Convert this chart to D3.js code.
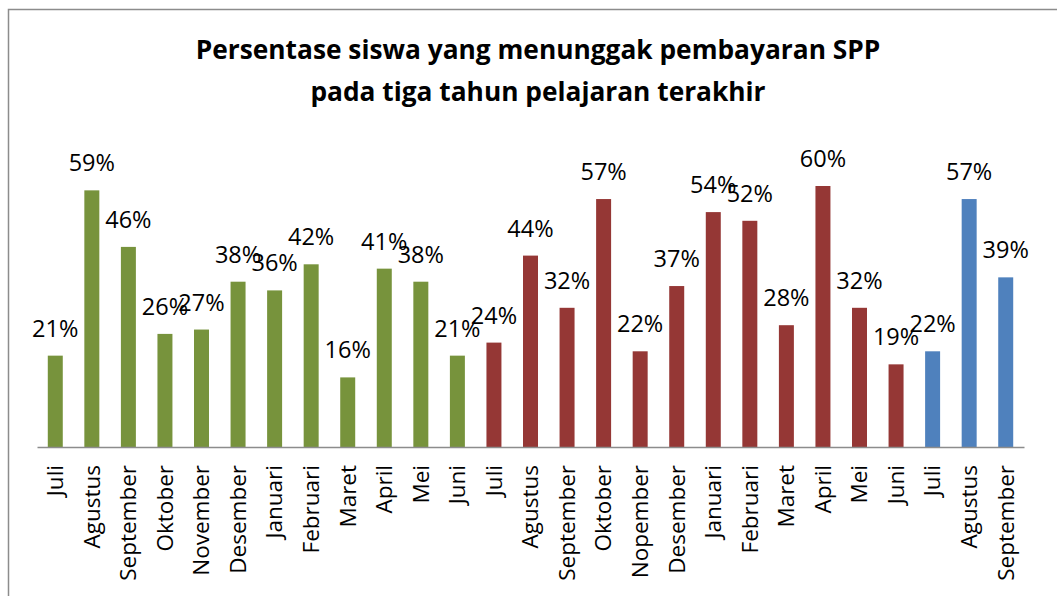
<!DOCTYPE html>
<html>
<head>
<meta charset="utf-8">
<script src="https://cdn.jsdelivr.net/npm/d3@7"></script>
<style>
  body { margin: 0; background: #fff; }
  svg { display: block; }
</style>
</head>
<body>
<div id="chart"></div>
<script>
// Data
var months = ["Juli", "Agustus", "September", "Oktober", "November", "Desember", "Januari", "Februari", "Maret", "April", "Mei", "Juni",
              "Juli", "Agustus", "September", "Oktober", "Nopember", "Desember", "Januari", "Februari", "Maret", "April", "Mei", "Juni",
              "Juli", "Agustus", "September"];
var year1 = [0.21, 0.59, 0.46, 0.26, 0.27, 0.38, 0.36, 0.42, 0.16, 0.41, 0.38, 0.21];
var year2 = [0.24, 0.44, 0.32, 0.57, 0.22, 0.37, 0.54, 0.52, 0.28, 0.60, 0.32, 0.19];
var year3 = [0.22, 0.57, 0.39];
var yearColors = ["#77933C", "#953735", "#4F81BD"];
var titleLines = ["Persentase siswa yang menunggak pembayaran SPP", "pada tiga tahun pelajaran terakhir"];

// Combine the three years into one row per bar
var rows = [];
[year1, year2, year3].forEach(function (vals, yr) {
  vals.forEach(function (v) {
    rows.push({ i: rows.length, month: months[rows.length], value: v, year: yr });
  });
});

var w = 1057, h = 596;
var plotLeft = 37, plotRight = 1024, plotBase = 447, plotTop = 142.5;

var svg = d3.select("#chart").append("svg")
  .attr("width", w)
  .attr("height", h);

// chart area frame (only left and top edges show in the crop)
svg.append("path")
  .attr("d", "M8.5," + h + "V9.5H" + w)
  .attr("fill", "none")
  .attr("stroke", "#8c8c8c")
  .attr("stroke-width", 1.5);

var x = d3.scaleBand()
  .domain(d3.range(rows.length))
  .range([plotLeft, plotRight])
  .paddingInner(0.59)
  .paddingOuter(0.295);

var y = d3.scaleLinear()
  .domain([0, 0.7])
  .range([plotBase, plotTop]);

// title
svg.append("text")
  .attr("text-anchor", "middle")
  .attr("font-family", "'Open Sans', sans-serif")
  .attr("font-weight", "bold")
  .attr("font-size", 26.3)
  .selectAll("tspan")
  .data(titleLines)
  .enter()
  .append("tspan")
  .attr("x", 538)
  .attr("y", function (d, i) { return 59 + i * 42; })
  .text(function (d) { return d; });

// bars
svg.selectAll("rect.bar")
  .data(rows)
  .enter()
  .append("rect")
  .attr("class", "bar")
  .attr("x", function (d) { return x(d.i); })
  .attr("y", function (d) { return y(d.value); })
  .attr("width", x.bandwidth())
  .attr("height", function (d) { return plotBase - y(d.value); })
  .attr("fill", function (d) { return yearColors[d.year]; });

// value labels
svg.selectAll("text.val")
  .data(rows)
  .enter()
  .append("text")
  .attr("class", "val")
  .attr("x", function (d) { return x(d.i) + x.bandwidth() / 2; })
  .attr("y", function (d) { return y(d.value) - 19; })
  .attr("text-anchor", "middle")
  .attr("font-family", "'Open Sans', sans-serif")
  .attr("font-size", 23.5)
  .attr("fill", "#000")
  .text(function (d) { return d3.format(".0%")(d.value); });

// x axis
var xAxis = d3.axisBottom(x)
  .tickSize(0)
  .tickPadding(0)
  .tickFormat(function (i) { return months[i]; });

var gx = svg.append("g")
  .attr("transform", "translate(0," + plotBase + ")")
  .call(xAxis);

gx.select(".domain")
  .attr("stroke", "#8c8c8c")
  .attr("stroke-width", 1.5);

gx.selectAll("text")
  .attr("font-family", "'Open Sans', sans-serif")
  .attr("font-size", 22.5)
  .attr("fill", "#000")
  .attr("text-anchor", "end")
  .attr("dy", "0.35em")
  .attr("transform", "translate(0,18) rotate(-90)");
</script>
</body>
</html>
